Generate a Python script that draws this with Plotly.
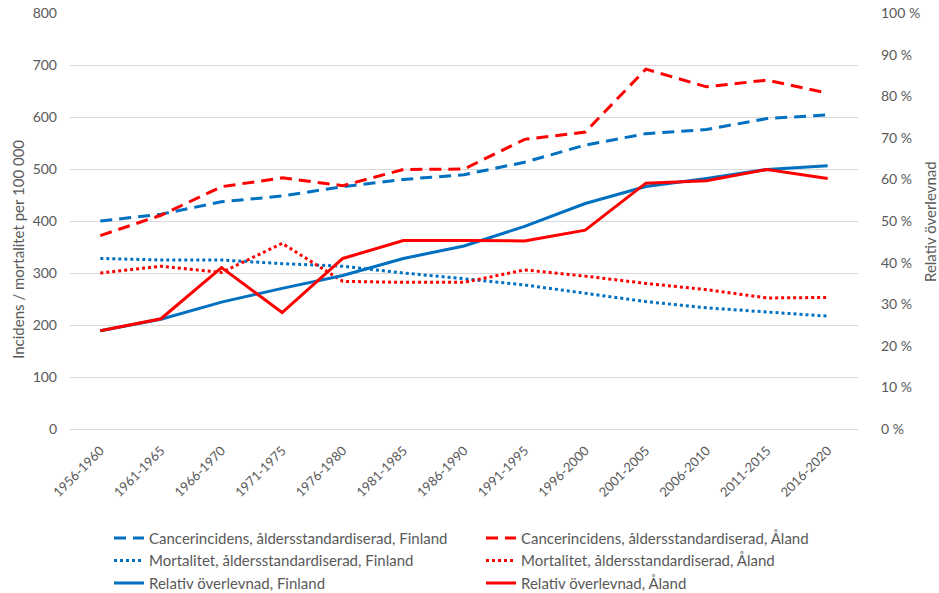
import plotly.graph_objects as go

periods = ["1956-1960", "1961-1965", "1966-1970", "1971-1975", "1976-1980", "1981-1985",
           "1986-1990", "1991-1995", "1996-2000", "2001-2005", "2006-2010", "2011-2015", "2016-2020"]

inc_fin = [400, 413, 437, 448, 466, 480, 489, 513, 546, 568, 576, 597, 604]
inc_ala = [372, 411, 466, 483, 468, 499, 500, 557, 571, 692, 658, 671, 646]
mort_fin = [328, 325, 325, 318, 313, 300, 289, 277, 261, 245, 233, 225, 217]
mort_ala = [300, 313, 301, 357, 284, 282, 282, 306, 294, 280, 268, 252, 253]
surv_fin = [23.6, 26.4, 30.5, 33.8, 36.9, 41.0, 44.0, 48.7, 54.2, 58.3, 60.2, 62.4, 63.3]
surv_ala = [23.6, 26.5, 38.8, 28.0, 41.0, 45.3, 45.3, 45.2, 47.8, 59.1, 59.7, 62.4, 60.2]

names = [
    "Cancerincidens, åldersstandardiserad, Finland",
    "Cancerincidens, åldersstandardiserad, Åland",
    "Mortalitet, åldersstandardiserad, Finland",
    "Mortalitet, åldersstandardiserad, Åland",
    "Relativ överlevnad, Finland",
    "Relativ överlevnad, Åland",
]
left_title = "Incidens / mortalitet per 100 000"
right_title = "Relativ överlevnad"

BLUE = "#0070C0"
RED = "#FF0000"
DASH = "12px,7px"
DOT = "3px,3px"

fig = go.Figure()
fig.add_trace(go.Scatter(x=periods, y=inc_fin, name=names[0], mode="lines",
                         line=dict(color=BLUE, width=3, dash=DASH)))
fig.add_trace(go.Scatter(x=periods, y=inc_ala, name=names[1], mode="lines",
                         line=dict(color=RED, width=3, dash=DASH)))
fig.add_trace(go.Scatter(x=periods, y=mort_fin, name=names[2], mode="lines",
                         line=dict(color=BLUE, width=3, dash=DOT)))
fig.add_trace(go.Scatter(x=periods, y=mort_ala, name=names[3], mode="lines",
                         line=dict(color=RED, width=3, dash=DOT)))
fig.add_trace(go.Scatter(x=periods, y=surv_fin, name=names[4], mode="lines", yaxis="y2",
                         line=dict(color=BLUE, width=3)))
fig.add_trace(go.Scatter(x=periods, y=surv_ala, name=names[5], mode="lines", yaxis="y2",
                         line=dict(color=RED, width=3)))

FONT = "Lato, sans-serif"
GREY = "#595959"

fig.update_layout(
    width=939, height=593,
    margin=dict(l=70, r=81, t=13, b=164, autoexpand=False),
    paper_bgcolor="white", plot_bgcolor="white",
    font=dict(family=FONT, size=14, color=GREY),
    xaxis=dict(type="category", range=[-0.5, 12.5], tickangle=-45, showgrid=False,
               showline=True, linecolor="#d9d9d9", ticks="", ticklabelstandoff=8,
               tickfont=dict(size=13, color=GREY)),
    yaxis=dict(range=[0, 800], dtick=100, showgrid=True, gridcolor="#d9d9d9", gridwidth=1,
               zeroline=False, ticks="", tickfont=dict(size=14, color=GREY), ticklabelstandoff=12),
    yaxis2=dict(range=[0, 100], dtick=10, ticksuffix=" %", overlaying="y", side="right",
                showgrid=False, zeroline=False, ticks="", tickfont=dict(size=14, color=GREY),
                ticklabelstandoff=22),
    legend=dict(orientation="h", x=0.0495, y=-0.223, xanchor="left", yanchor="top",
                entrywidth=327, entrywidthmode="pixels", itemwidth=30,
                font=dict(size=15, color=GREY), tracegroupgap=0),
    annotations=[
        dict(text=left_title, textangle=-90, xref="paper", yref="paper", x=-0.066, y=0.433,
             xanchor="center", yanchor="middle", showarrow=False, font=dict(size=15, color=GREY)),
        dict(text=right_title, textangle=-90, xref="paper", yref="paper", x=1.0914, y=0.4976,
             xanchor="center", yanchor="middle", showarrow=False, font=dict(size=15, color=GREY)),
    ],
    showlegend=True,
)

fig.write_html("out.html", config={"displayModeBar": False},
               post_script="document.body.style.margin='0px';")
